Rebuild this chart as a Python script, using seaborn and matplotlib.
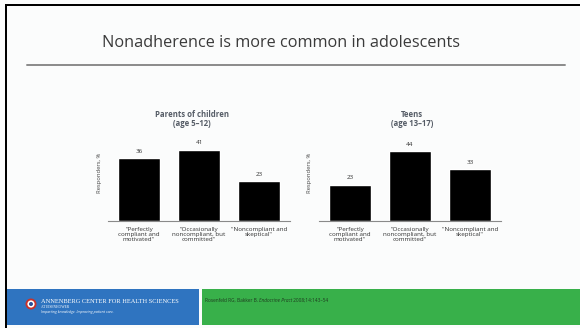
import matplotlib
matplotlib.use("Agg")
import matplotlib.pyplot as plt
import seaborn as sns
import pandas as pd
from matplotlib.patches import Rectangle, Ellipse

sns.set_theme(style="white")
plt.rcParams['font.family'] = ['Open Sans', 'DejaVu Sans']

categories = ['"Perfectly\ncompliant and\nmotivated"',
              '"Occasionally\nnoncompliant, but\ncommitted"',
              '"Noncompliant and\nskeptical"']
parents_values = [36, 41, 23]
teens_values = [23, 44, 33]
panel_titles = ["Parents of children\n(age 5\u201312)", "Teens\n(age 13\u201317)"]
y_label = "Responders, %"
slide_title = "Nonadherence is more common in adolescents"
citation = "Rosenfeld RG, Bakker B. "
journal = "Endocrine Pract"
citation_tail = " 2008;14:143\u201354"

W, H = 580, 328
fig = plt.figure(figsize=(W / 100, H / 100), dpi=100)
fig.patch.set_facecolor("#fbfcfc")

def px(x, y, w, h):
    return [x / W, 1 - (y + h) / H, w / W, h / H]

def disc(cx, cy, r, color):
    fig.add_artist(Ellipse((cx / W, 1 - cy / H), 2 * r / W, 2 * r / H,
                           transform=fig.transFigure, color=color, lw=0))

# border
fig.add_artist(Rectangle((5 / W, 0), 2 / W, (H - 4) / H, transform=fig.transFigure, color="black", lw=0))
fig.add_artist(Rectangle((5 / W, 1 - 6 / H), (W - 5) / W, 2 / H, transform=fig.transFigure, color="black", lw=0))

# title
fig.text(280.5 / W, 1 - 43 / H, slide_title, ha="center", va="center", fontsize=11.7, color="#3a3a3a")
fig.add_artist(plt.Line2D([27 / W, 565 / W], [1 - 64.5 / H, 1 - 64.5 / H], transform=fig.transFigure,
                          color="#8a8a8a", lw=1.4))

panels = [
    dict(vals=parents_values, left=107.8, ymax=50, title=panel_titles[0], tx=192, ylx=100),
    dict(vals=teens_values, left=318.8, ymax=55, title=panel_titles[1], tx=412, ylx=310),
]
for p in panels:
    ax = fig.add_axes(px(p["left"], 221 - 87, 182.4, 87))
    ax.set_facecolor("none")
    df = pd.DataFrame({"cat": categories, "val": p["vals"]})
    sns.barplot(data=df, x="cat", y="val", color="black", width=0.7, ax=ax, saturation=1)
    ax.set_xlim(-0.52, 2.52)
    ax.set_ylim(0, p["ymax"])
    for i, v in enumerate(p["vals"]):
        ax.annotate(str(v), (i, v), xytext=(0, 3), textcoords="offset points",
                    ha="center", va="bottom", fontsize=4.5, color="#333333")
    sns.despine(ax=ax, left=True)
    ax.spines["bottom"].set_color("#8a8a8a")
    ax.spines["bottom"].set_linewidth(0.8)
    ax.set_yticks([])
    ax.set_xlabel("")
    ax.set_ylabel("")
    ax.tick_params(axis="x", length=0, pad=4, labelsize=4.5, labelcolor="#333333")
    for lab in ax.get_xticklabels():
        lab.set_linespacing(1.1)
    fig.text(p["tx"] / W, 1 - 119 / H, p["title"], ha="center", va="center", fontsize=5.6,
             fontweight="bold", color="#555c66", linespacing=1.1)
    fig.text(p["ylx"] / W, 1 - 173 / H, y_label, ha="center", va="center", rotation=90,
             fontsize=4.2, color="#444444")

# footer
fig.add_artist(Rectangle((7 / W, 1 - 325 / H), 192 / W, 36 / H, transform=fig.transFigure,
                         color="#2f74c0", lw=0))
fig.add_artist(Rectangle((202 / W, 1 - 325 / H), 378 / W, 36 / H, transform=fig.transFigure,
                         color="#38b04a", lw=0))
disc(31, 304, 5.5, "#c8322b")
disc(31, 304, 3.6, "white")
disc(31, 304, 2.0, "#2a4f9a")
fig.text(41 / W, 1 - 301.5 / H, "ANNENBERG CENTER FOR HEALTH SCIENCES", ha="left", va="center",
         fontsize=4.6, color="white", family=["Liberation Serif", "DejaVu Serif"])
fig.text(41 / W, 1 - 307.5 / H, "AT EISENHOWER", ha="left", va="center", fontsize=2.6,
         color="white", family=["Liberation Serif", "DejaVu Serif"])
fig.text(41 / W, 1 - 311.5 / H, "Imparting knowledge. Improving patient care.", ha="left", va="center",
         fontsize=2.6, color="white", style="italic")
t = fig.text(205 / W, 1 - 300 / H, citation, ha="left", va="center", fontsize=3.4, color="#1e3a1e")
fig.canvas.draw()
bb = t.get_window_extent()
t2 = fig.text(bb.x1 / W, 1 - 300 / H, journal, ha="left", va="center", fontsize=3.4, color="#1e3a1e",
              style="italic")
fig.canvas.draw()
bb2 = t2.get_window_extent()
fig.text(bb2.x1 / W, 1 - 300 / H, citation_tail, ha="left", va="center", fontsize=3.4, color="#1e3a1e")

fig.savefig("out.png", dpi=100, facecolor=fig.get_facecolor())
